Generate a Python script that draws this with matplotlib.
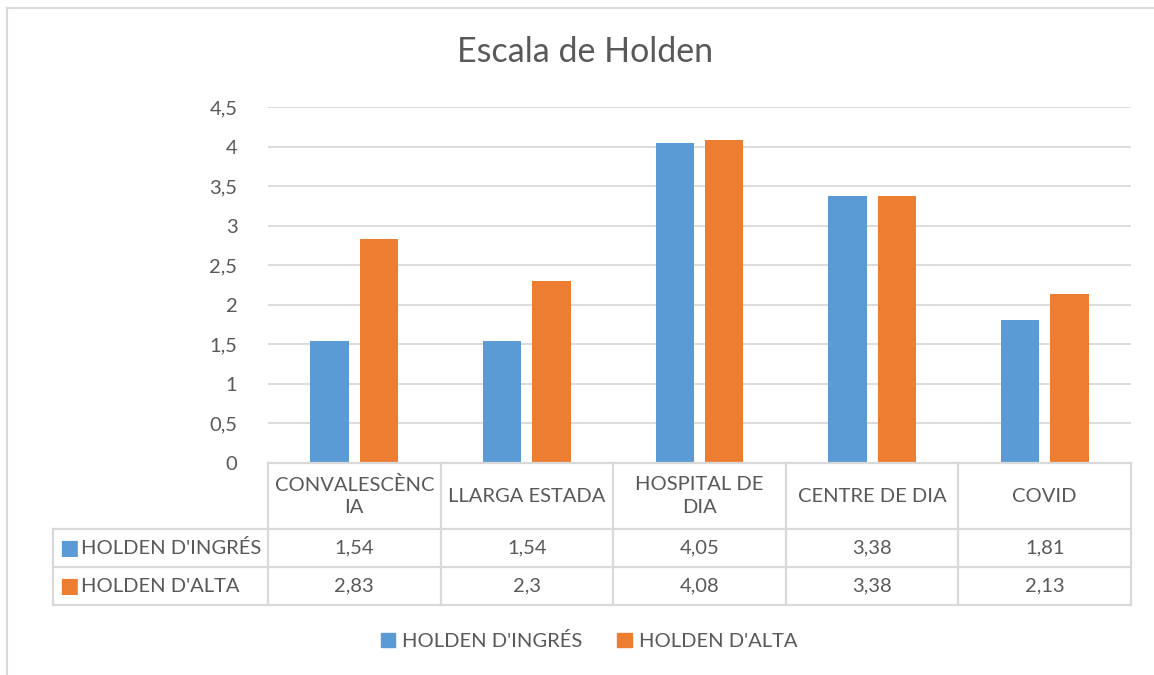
import matplotlib.pyplot as plt
from matplotlib.lines import Line2D
from matplotlib.patches import Patch
import numpy as np

plt.rcParams['font.family'] = ['Lato', 'DejaVu Sans']

categories = ["CONVALESCÈNC\nIA", "LLARGA ESTADA", "HOSPITAL DE\nDIA", "CENTRE DE DIA", "COVID"]
series_names = ["HOLDEN D'INGRÉS", "HOLDEN D'ALTA"]
ingres = [1.54, 1.54, 4.05, 3.38, 1.81]
alta = [2.83, 2.3, 4.08, 3.38, 2.13]
yticks = [0, 0.5, 1, 1.5, 2, 2.5, 3, 3.5, 4, 4.5]

BLUE = "#5B9BD5"
ORANGE = "#ED7D31"
TXT = "#595959"
GRID = "#D9D9D9"
FS = 14.5

W, H = 1154, 675
fig = plt.figure(figsize=(W / 100, H / 100), dpi=100)

def fx(px):
    return px / W

def fy(py):
    return 1 - py / H

# outer chart frame (top and left edge visible)
fig.add_artist(Line2D([fx(7), 1], [fy(8), fy(8)], color=GRID, lw=1.5))
fig.add_artist(Line2D([fx(7), fx(7)], [fy(8), 0], color=GRID, lw=1.5))

fig.text(fx(585), fy(52), "Escala de Holden", ha='center', va='center', fontsize=24.5, color=TXT)

ax = fig.add_axes([fx(268), fy(463), fx(1131) - fx(268), fy(107) - fy(463)])
x = np.arange(len(categories))
bw = 0.223
ax.bar(x - 0.143, ingres, bw, color=BLUE, zorder=3)
ax.bar(x + 0.143, alta, bw, color=ORANGE, zorder=3)
ax.set_xlim(-0.5, len(categories) - 0.5)
ax.set_ylim(0, 4.5)
ax.set_yticks(yticks)
ax.set_yticklabels([("%g" % v).replace(".", ",") for v in yticks])
ax.tick_params(axis='y', length=0, pad=22, labelsize=FS, labelcolor=TXT)
ax.set_xticks([])
for s in ax.spines.values():
    s.set_visible(False)
ax.yaxis.grid(True, color=GRID, lw=1.3, zorder=0)

# data table below the axis
col_w = (1131 - 268) / len(categories)
tab = fig.add_axes([fx(53), fy(605), fx(1131) - fx(53), fy(463) - fy(605)])
left = -0.5 - (268 - 53) / col_w
tab.set_xlim(left, len(categories) - 0.5)
tab.set_ylim(142, 0)
tab.axis('off')
rows = [0, 66, 104, 142]
lc = dict(color=GRID, lw=1.6, clip_on=False)
tab.plot([-0.5, len(categories) - 0.5], [0, 0], **lc)
for r in rows[1:]:
    tab.plot([left, len(categories) - 0.5], [r, r], **lc)
tab.plot([left, left], [rows[1], rows[3]], **lc)
for i in range(len(categories) + 1):
    tab.plot([i - 0.5, i - 0.5], [0, 142], **lc)

for i, c in enumerate(categories):
    tab.text(i, 33, c, ha='center', va='center', fontsize=FS, color=TXT, linespacing=1.4)
    tab.text(i, 85, ("%g" % ingres[i]).replace(".", ","), ha='center', va='center', fontsize=FS, color=TXT)
    tab.text(i, 123, ("%g" % alta[i]).replace(".", ","), ha='center', va='center', fontsize=FS, color=TXT)

for yc, name, col in [(85, series_names[0], BLUE), (123, series_names[1], ORANGE)]:
    tab.text(left + 0.035, yc, "\u25A0", ha='left', va='center', fontsize=15, color=col, family=['DejaVu Sans'])
    tab.text(left + 0.162, yc, name, ha='left', va='center', fontsize=FS, color=TXT)

handles = [Patch(color=BLUE), Patch(color=ORANGE)]
fig.legend(handles, series_names, loc='center', bbox_to_anchor=(fx(589), fy(641)), ncol=2,
           frameon=False, fontsize=FS, labelcolor=TXT, handlelength=0.7, handleheight=0.7,
           handletextpad=0.35, columnspacing=1.75)

fig.savefig("out.png", dpi=100)
